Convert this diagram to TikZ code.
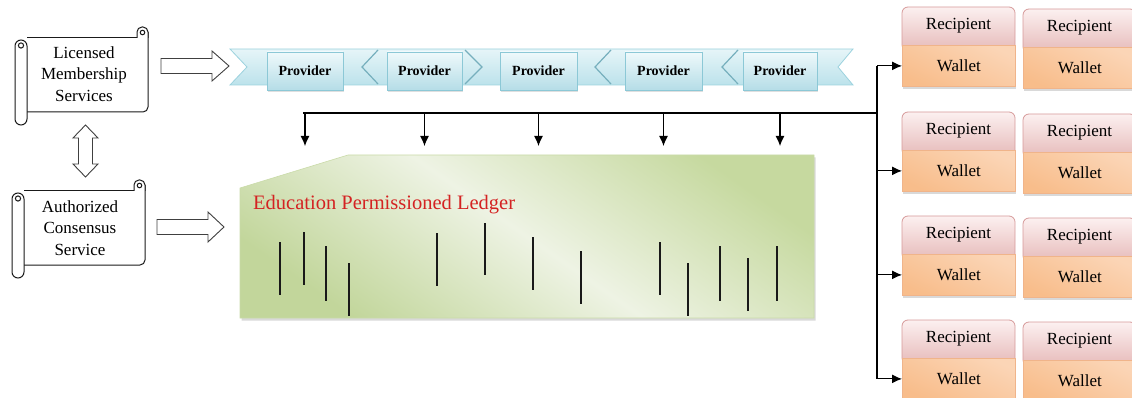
\documentclass[tikz,border=0pt]{standalone}
\usepackage{fontspec}
\setmainfont{Liberation Serif}
\usetikzlibrary{shadows,arrows.meta}
\definecolor{scline}{HTML}{1A1A1A}
\definecolor{ribtop}{HTML}{E6F5F8}
\definecolor{ribbot}{HTML}{BCE2EB}
\definecolor{ribline}{HTML}{9CD2DE}
\definecolor{ribdark}{HTML}{76AFBD}
\definecolor{provtop}{HTML}{EFF9FB}
\definecolor{provbot}{HTML}{B5DDE7}
\definecolor{provline}{HTML}{8CC8D6}
\definecolor{ledgA}{HTML}{C2D69B}
\definecolor{ledgB}{HTML}{EEF3E4}
\definecolor{ledgC}{HTML}{C6D99F}
\definecolor{ledgline}{HTML}{CADBA9}
\definecolor{ledgred}{HTML}{D42222}
\definecolor{rectop}{HTML}{FCF0F0}
\definecolor{recbot}{HTML}{E6BAB9}
\definecolor{recline}{HTML}{D69A9A}
\definecolor{waltop}{HTML}{FBD5B6}
\definecolor{walmid}{HTML}{FDE9DA}
\definecolor{walbot}{HTML}{F8BD8B}
\definecolor{walline}{HTML}{F0B48A}
\begin{document}
\begin{tikzpicture}[x=1pt,y=-1pt,
  scl/.style={draw=scline, line width=1pt},
  sctext/.style={align=center, font=\fontsize{17}{21.5}\selectfont, inner sep=0pt},
  blockarr/.style={draw=black!75, fill=white, line width=0.9pt, line join=miter},
  conn/.style={draw=black, line width=1.1pt},
  arr/.style={conn, -{Latex[length=10pt,width=9pt]}},
  prov/.style={draw=provline, line width=0.8pt, top color=provtop, bottom color=provbot,
     minimum height=38pt, inner sep=0pt, font=\fontsize{14}{14}\selectfont\bfseries,
     drop shadow={shadow xshift=1pt, shadow yshift=-2pt, opacity=0.25}},
  recbox/.style={draw=recline, line width=0.8pt, top color=rectop, bottom color=recbot, rounded corners=6pt},
  rectext/.style={font=\fontsize{17}{17}\selectfont, inner sep=0pt},
  wallet/.style={draw=walline, line width=0.8pt, shading=axis, top color=waltop, middle color=walmid,
     bottom color=walbot, shading angle=-25, anchor=north west, minimum width=113pt, minimum height=41pt,
     inner sep=0pt, font=\fontsize{17}{17}\selectfont,
     drop shadow={shadow xshift=1pt, shadow yshift=-2.5pt, opacity=0.3}},
  bar/.style={draw=black!90, line width=1.8pt}
]
\useasboundingbox (0,0) rectangle (1132,398);

% ---------- scrolls ----------
\foreach \sx/\sy/\bw in {0/0/148, -3/153/148}{
\begin{scope}[shift={(\sx,\sy)}]
  \fill[white] (21,38) rectangle (\bw,112);
  \draw[scl] (27,38) -- (137,38);
  \draw[scl, rounded corners=5pt] (\bw,32) -- (\bw,112) -- (27,112);
  \filldraw[scl, fill=white, rounded corners=5pt] (137,38) -- (137,27) -- (\bw,27) -- (\bw,38);
  \draw[scl] (142.5,32.5) circle (2.3pt);
  \filldraw[scl, fill=white, rounded corners=6pt] (15,40) rectangle (27,125);
  \draw[scl] (21,45.5) circle (2.6pt);
\end{scope}}
\node[sctext] (lms) at (84,74) {Licensed\\Membership\\Services};
\node[sctext] (acs) at (80,228) {Authorized\\Consensus\\Service};

% double arrow between the scrolls
\draw[blockarr] (85.5,125) -- (98,138) -- (92.5,138) -- (92.5,164) -- (98,164) -- (85.5,177)
  -- (73,164) -- (78.5,164) -- (78.5,138) -- (73,138) -- cycle;
% block arrows to the right
\draw[blockarr] (161,58.5) -- (212,58.5) -- (212,51) -- (229,66) -- (212,81) -- (212,73.5) -- (161,73.5) -- cycle;
\draw[blockarr] (157,219.5) -- (208,219.5) -- (208,212) -- (224,227) -- (208,242) -- (208,234.5) -- (157,234.5) -- cycle;

% ---------- ribbon ----------
\shade[top color=ribtop, bottom color=ribbot, draw=ribline, line width=0.8pt]
  (230,49) -- (853,49) -- (838,67) -- (853,85) -- (230,85) -- (247,67) -- cycle;
\draw[ribdark, line width=1.2pt] (378,50) -- (362,67) -- (378,84);
\draw[ribdark, line width=1.2pt] (465,50) -- (482,67) -- (465,84);
\draw[ribdark, line width=1.2pt] (611,50) -- (595,67) -- (611,84);
\draw[ribdark, line width=1.2pt] (738,50) -- (722,67) -- (738,84);

\node[prov, minimum width=76pt] (p1) at (305,71) {Provider};
\node[prov, minimum width=75pt] (p2) at (424.5,71) {Provider};
\node[prov, minimum width=77pt] (p3) at (538.5,71) {Provider};
\node[prov, minimum width=77pt] (p4) at (663.5,71) {Provider};
\node[prov, minimum width=74pt] (p5) at (780,71) {Provider};

% ---------- ledger ----------
\shade[top color=ledgC, bottom color=ledgA, middle color=ledgB, shading angle=-35,
  draw=ledgline, line width=0.6pt,
  drop shadow={shadow xshift=1.5pt, shadow yshift=-2.5pt, opacity=0.3}]
  (240,188) -- (348,155) -- (814,155) -- (814,318) -- (240,318) -- cycle;
\node[font=\fontsize{20.5}{24}\selectfont, text=ledgred, anchor=west, inner sep=0pt] (epl) at (253,205)
  {Education Permissioned Ledger};
\foreach \x/\a/\b in {280/242/295, 304/232/285, 326/246/301, 349/263/316, 437/233/286,
  485/223/275, 533/237/290, 581/251/304, 660/242/295, 688/263/316, 720/246/301,
  748/258/311, 777/246/301}
  \draw[bar] (\x,\a) -- (\x,\b);

% ---------- recipients / wallets ----------
\foreach \n/\bx/\by in {a/902/7, b/1023/9, c/902/112, d/1023/114, e/902/216, f/1023/218, g/902/320, h/1023/322}{
  \shade[recbox] (\bx,\by) rectangle ({\bx+113},{\by+44});
  \node[rectext] (r\n) at ({\bx+56.5},{\by+19}) {Recipient};
  \node[wallet] (w\n) at (\bx,{\by+38}) {Wallet};
}

% ---------- connectors ----------
\coordinate (bus) at (303,113);
\coordinate (busend) at (877,113);
\coordinate (ltop) at (0,146);
\draw[conn] (bus) -- (busend);
\foreach \p in {p1,p2,p3,p4,p5}
  \draw[arr] (\p.center |- bus) -- (\p.center |- ltop);
\draw[conn] (busend |- wa.west) -- (busend |- wg.west);
\foreach \w in {wa,wc,we,wg}
  \draw[arr] (busend |- \w.west) -- (\w.west);
\end{tikzpicture}
\end{document}
